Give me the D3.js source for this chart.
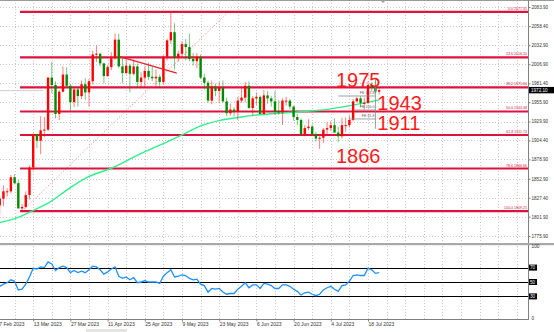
<!DOCTYPE html>
<html>
<head>
<meta charset="utf-8">
<script src="https://cdn.jsdelivr.net/npm/d3@7"></script>
<style>
body { margin: 0; background: #fff; }
svg { display: block; }
text { font-family: "Liberation Sans", Arial, sans-serif; }
</style>
</head>
<body>
<div id="chart"></div>
<script>
// Global Variables
var w = 554;
var h = 332;
var plotRight = 528;

// Daily bars, index 0 = 27 Feb 2023 (bars are evenly spaced, no weekends)
var open = [1811,1817,1826,1836,1836,1855,1847,1813,1815,1831,
	1868,1913,1904,1918,1919,1989,1979,1940,1970,1993,
	1978,1956,1973,1964,1980,1969,1984,2020,2021,2008,
	1991,2003,2015,2040,2004,1995,2005,1994,2004,1983,
	1989,1998,1990,1988,1990,1983,2017,2039,2050,2016,
	2021,2034,2030,2014,2011,2017,1989,1982,1958,1977,
	1971,1975,1957,1941,1946,1943,1958,1962,1978,1948,
	1961,1963,1940,1965,1961,1957,1944,1942,1958,1958,
	1950,1936,1932,1913,1921,1923,1913,1907,1908,1919,
	1921,1925,1915,1910,1925,1925,1932,1957,1961,1955,
	1955,1979,1976,1970];
var high = [1826,1830,1844,1840,1858,1859,1851,1819,1836,1871,
	1914,1913,1937,1936,1989,2010,1984,1972,2004,2003,
	1980,1975,1975,1985,1988,1987,2025,2032,2022,2009,
	2006,2023,2048,2048,2015,2014,2008,2013,2008,1996,
	2004,2009,2004,2000,1993,2019,2041,2077,2062,2025,
	2038,2041,2048,2022,2022,2020,1994,1985,1985,1981,
	1983,1985,1962,1954,1949,1963,1975,1983,1984,1964,
	1969,1965,1972,1971,1964,1971,1959,1961,1963,1960,
	1951,1940,1934,1925,1933,1926,1916,1911,1921,1929,
	1930,1934,1923,1935,1935,1938,1960,1963,1964,1962,
	1984,1983,1987,1975];
var low = [1805,1804,1816,1829,1833,1845,1813,1809,1813,1825,
	1864,1894,1886,1909,1917,1968,1934,1932,1969,1976,
	1944,1949,1950,1960,1959,1950,1980,2010,2004,1981,
	1990,1999,2013,2002,1981,1993,1969,1992,1975,1976,
	1975,1986,1984,1976,1976,1980,2012,2034,2000,2010,
	2015,2012,2011,2005,2002,1987,1973,1955,1953,1964,
	1955,1955,1937,1938,1937,1932,1955,1956,1947,1938,
	1952,1940,1939,1954,1950,1939,1939,1925,1951,1946,
	1931,1925,1912,1910,1918,1911,1903,1893,1901,1913,
	1917,1915,1902,1907,1916,1922,1930,1956,1950,1946,
	1953,1970,1967,1966];
var close = [1817,1826,1836,1836,1855,1847,1813,1815,1831,1868,
	1913,1904,1918,1919,1989,1979,1940,1970,1993,1978,
	1956,1973,1964,1980,1969,1984,2020,2021,2008,1991,
	2003,2015,2040,2004,1995,2005,1994,2004,1983,1989,
	1998,1990,1988,1990,1983,2017,2039,2050,2016,2021,
	2034,2030,2014,2011,2017,1989,1982,1958,1977,1971,
	1975,1957,1941,1946,1943,1958,1962,1978,1948,1961,
	1963,1940,1965,1961,1957,1944,1942,1958,1958,1950,
	1936,1932,1913,1921,1923,1913,1907,1908,1919,1921,
	1925,1915,1910,1925,1925,1932,1957,1961,1955,1955,
	1979,1976,1970,1972.1];

// Moving average read at a few bars
var maBar = [1, 6, 9, 14, 20, 25, 31, 39, 44, 50, 55, 60, 66, 71, 76, 82, 87, 96, 103];
var maVal = [1794, 1801, 1808, 1820, 1841, 1856, 1867, 1887, 1898, 1912, 1924, 1931, 1936, 1939, 1941, 1943, 1945, 1952, 1959];

// RSI, one value per bar
var rsi = [42,44,47,49,53,51,39,40,47,57,
	69,68,71,70,78,75,66,70,72,70,
	63,66,63,65,63,67,72,71,67,61,
	64,68,71,58,55,57,53,56,49,50,
	52,50,50,50,48,58,63,67,57,58,
	60,59,55,53,54,47,45,36,41,40,
	41,36,33,34,34,40,44,49,42,46,
	46,41,48,47,45,41,41,46,46,44,
	40,37,32,35,36,33,31,33,39,42,
	44,40,37,45,46,51,59,60,59,59,
	69,67,62,63];
var rsiLevels = [70, 50, 30];

// Fibonacci retracement (8 Mar low -> top)
var fibRatio = ["0.0", "23.6", "38.2", "50.0", "61.8", "78.6", "100.0"];
var fibPrice = [2077.31, 2016.20, 1975.84, 1943.38, 1911.73, 1866.66, 1809.25];
var fibFrom = [7, 1809.25];
var fibTo = [62.5, 2077.31];

// Fibonacci expansion levels
var feName = ["FE 161.8", "FE 100.0", "FE 61.8"];
var fePrice = [1964.2, 1945.4, 1933.3];
var feStart = [92, 96, 95];
var feEnd = 102;

// Hand drawn down trend line
var trendBar = [33.3, 48.6];
var trendVal = [2017, 1995];

// Big notes on the chart
var noteText = ["1975", "1943", "1911", "1866"];
var noteBar = [91.4, 102.5, 102.5, 91.4];
var notePrice = [1976.3, 1945, 1918.5, 1874];

// Axes
var priceTicks = [2083.90, 2058.40, 2032.90, 2006.90, 1981.40, 1955.90, 1929.90, 1904.40, 1878.90, 1852.90, 1827.40, 1801.90, 1775.90];
var dateTicks = [0, 10, 20, 30, 40, 50, 60, 70, 80, 90, 100];
var dateLabels = ["27 Feb 2023", "13 Mar 2023", "27 Mar 2023", "11 Apr 2023", "25 Apr 2023", "9 May 2023", "23 May 2023", "6 Jun 2023", "20 Jun 2023", "4 Jul 2023", "18 Jul 2023"];
var lastPrice = 1972.10;

// Scales
var x = d3.scaleLinear().domain([0, 100]).range([-4, 368]);
var y = d3.scaleLinear().domain([1775.9, 2083.9]).range([236, 7]);
var yr = d3.scaleLinear().domain([0, 100]).range([318, 246]);

var svg = d3.select("#chart")
	.append("svg")
	.attr("width", w)
	.attr("height", h);

svg.append("defs").append("clipPath").attr("id", "clipMain")
	.append("rect").attr("x", 0).attr("y", 1).attr("width", plotRight).attr("height", 242);
svg.select("defs").append("clipPath").attr("id", "clipRsi")
	.append("rect").attr("x", 0).attr("y", 246).attr("width", plotRight).attr("height", 73);

var main = svg.append("g").attr("clip-path", "url(#clipMain)");
var sub = svg.append("g").attr("clip-path", "url(#clipRsi)");

// grid
var gridBars = d3.range(0, 145, 5);
[main, sub].forEach(function(g, k) {
	g.selectAll("line.vgrid")
		.data(gridBars)
		.enter()
		.append("line")
		.attr("class", "vgrid")
		.attr("x1", function(d) { return Math.round(x(d)) + 0.5; })
		.attr("x2", function(d) { return Math.round(x(d)) + 0.5; })
		.attr("y1", k == 0 ? 0 : 246)
		.attr("y2", k == 0 ? 244 : 319)
		.style("stroke", "#c8c8c8")
		.style("stroke-dasharray", "1,2");
});
main.selectAll("line.hgrid")
	.data(priceTicks)
	.enter()
	.append("line")
	.attr("x1", 0)
	.attr("x2", plotRight)
	.attr("y1", function(d) { return Math.round(y(d)) + 0.5; })
	.attr("y2", function(d) { return Math.round(y(d)) + 0.5; })
	.style("stroke", "#c8c8c8")
	.style("stroke-dasharray", "1,2");

// bid line stub
main.append("line")
	.attr("x1", 0).attr("x2", 43)
	.attr("y1", y(lastPrice) + 0.5).attr("y2", y(lastPrice) + 0.5)
	.style("stroke", "#cfcfcf");

// fib retracement
main.append("line")
	.attr("x1", x(fibFrom[0])).attr("y1", y(fibFrom[1]))
	.attr("x2", x(fibTo[0])).attr("y2", y(fibTo[1]))
	.style("stroke", "#f08080")
	.style("stroke-dasharray", "1,2");

main.selectAll("line.fib")
	.data(fibPrice)
	.enter()
	.append("line")
	.attr("x1", x(fibFrom[0]) - 2)
	.attr("x2", plotRight)
	.attr("y1", function(d) { return y(d); })
	.attr("y2", function(d) { return y(d); })
	.style("stroke", "#dc143c")
	.style("stroke-width", 2.2);

main.selectAll("text.fib")
	.data(fibPrice)
	.enter()
	.append("text")
	.attr("x", plotRight - 1)
	.attr("y", function(d) { return y(d) - 2; })
	.attr("text-anchor", "end")
	.style("font-size", "3.6px")
	.style("fill", "#dc143c")
	.text(function(d, i) { return fibRatio[i] + " " + d.toFixed(2); });

// moving average
main.append("path")
	.datum(maBar)
	.attr("d", d3.line()
		.x(function(d) { return x(d); })
		.y(function(d, i) { return y(maVal[i]); })
		.curve(d3.curveMonotoneX))
	.style("fill", "none")
	.style("stroke", "#2ef08a")
	.style("stroke-width", 1.4);

// candles (red = up, green = down)
var bars = d3.range(open.length);
function barColor(i) { return close[i] >= open[i] ? "#ff0000" : "#008a00"; }

main.selectAll("line.wick")
	.data(bars)
	.enter()
	.append("line")
	.attr("x1", function(i) { return x(i); })
	.attr("x2", function(i) { return x(i); })
	.attr("y1", function(i) { return y(high[i]); })
	.attr("y2", function(i) { return y(low[i]); })
	.style("stroke", barColor)
	.style("stroke-opacity", 0.5)
	.style("stroke-width", 1);

main.selectAll("rect.body")
	.data(bars)
	.enter()
	.append("rect")
	.attr("x", function(i) { return x(i) - 1.2; })
	.attr("width", 2.4)
	.attr("y", function(i) { return y(Math.max(open[i], close[i])); })
	.attr("height", function(i) { return Math.max(1, Math.abs(y(open[i]) - y(close[i]))); })
	.style("fill", barColor);

// trend line
main.append("line")
	.attr("x1", x(trendBar[0])).attr("y1", y(trendVal[0]))
	.attr("x2", x(trendBar[1])).attr("y2", y(trendVal[1]))
	.style("stroke", "#e8202a")
	.style("stroke-width", 1.3);

// fib expansion
main.selectAll("line.fe")
	.data(fePrice)
	.enter()
	.append("line")
	.attr("x1", function(d, i) { return x(feStart[i]); })
	.attr("x2", x(feEnd))
	.attr("y1", function(d) { return y(d); })
	.attr("y2", function(d) { return y(d); })
	.style("stroke", "#8a8a8a")
	.style("stroke-width", 0.8);
main.append("line")
	.attr("x1", x(feEnd)).attr("x2", x(feEnd))
	.attr("y1", y(1985)).attr("y2", y(1920))
	.style("stroke", "#8a8a8a")
	.style("stroke-width", 0.8);
main.selectAll("text.fe")
	.data(fePrice)
	.enter()
	.append("text")
	.attr("x", x(feEnd) - 1)
	.attr("y", function(d) { return y(d) - 1.5; })
	.attr("text-anchor", "end")
	.style("font-size", "3.6px")
	.style("fill", "#555")
	.text(function(d, i) { return feName[i]; });

// big notes
main.selectAll("text.note")
	.data(noteText)
	.enter()
	.append("text")
	.attr("x", function(d, i) { return x(noteBar[i]); })
	.attr("y", function(d, i) { return y(notePrice[i]); })
	.style("font-size", "20px")
	.style("fill", "#ff1a1a")
	.text(function(d) { return d; });

// RSI
sub.selectAll("line.level")
	.data(rsiLevels)
	.enter()
	.append("line")
	.attr("x1", 0).attr("x2", plotRight)
	.attr("y1", function(d) { return Math.round(yr(d)) + 0.5; })
	.attr("y2", function(d) { return Math.round(yr(d)) + 0.5; })
	.style("stroke", "#000");

sub.append("path")
	.datum(rsi)
	.attr("d", d3.line()
		.x(function(d, i) { return x(i); })
		.y(function(d) { return yr(d); }))
	.style("fill", "none")
	.style("stroke", "#1e90ff")
	.style("stroke-width", 1.3);

// frames
svg.append("line").attr("x1", 0).attr("x2", w).attr("y1", 0.5).attr("y2", 0.5).style("stroke", "#9a9a9a");
svg.append("rect").attr("x", 0).attr("y", 243).attr("width", w).attr("height", 2.2).style("fill", "#a8a8a8");
svg.append("path").attr("d", "M380,0L386,0L383,3Z").style("fill", "#a0a0a0");

// price axis
var pAxis = svg.append("g")
	.attr("transform", "translate(" + (plotRight + 0.5) + ",0)")
	.call(d3.axisRight(y).tickValues(priceTicks).tickSize(2).tickFormat(d3.format(".2f")));
pAxis.select(".domain").attr("d", "M0,0V243").style("stroke", "#808080");
pAxis.selectAll("line").style("stroke", "#808080");
pAxis.selectAll("text").style("font-size", "4.6px").style("fill", "#333").attr("x", 3).attr("font-family", null);

svg.append("rect").attr("x", plotRight + 1).attr("y", y(lastPrice) - 3.2).attr("width", 25).attr("height", 6.4).style("fill", "#000");
svg.append("text").attr("x", plotRight + 3).attr("y", y(lastPrice) + 1.7)
	.style("font-size", "4.6px").style("fill", "#fff").text(lastPrice.toFixed(2));

// RSI axis
var rAxis = svg.append("g")
	.attr("transform", "translate(" + (plotRight + 0.5) + ",0)")
	.call(d3.axisRight(yr).tickValues([100, 0]).tickSize(0));
rAxis.select(".domain").attr("d", "M0,245V320").style("stroke", "#808080");
rAxis.selectAll("text").style("font-size", "4.8px").style("fill", "#333").attr("x", 3).attr("font-family", null);

svg.selectAll("rect.lvl")
	.data(rsiLevels)
	.enter()
	.append("rect")
	.attr("x", plotRight + 1)
	.attr("y", function(d) { return yr(d) - 3; })
	.attr("width", 8)
	.attr("height", 6)
	.style("fill", "#000");
svg.selectAll("text.lvl")
	.data(rsiLevels)
	.enter()
	.append("text")
	.attr("x", plotRight + 2)
	.attr("y", function(d) { return yr(d) + 1.7; })
	.style("font-size", "4.6px")
	.style("fill", "#fff")
	.text(function(d) { return d; });

// time axis
var tAxis = svg.append("g")
	.attr("transform", "translate(0,319.5)")
	.call(d3.axisBottom(x).tickValues(dateTicks).tickSize(2)
		.tickFormat(function(d, i) { return dateLabels[i]; }));
tAxis.select(".domain").attr("d", "M0,0H" + (plotRight + 0.5)).style("stroke", "#808080");
tAxis.selectAll("line").style("stroke", "#808080");
tAxis.selectAll("text").style("font-size", "5px").style("fill", "#333")
	.attr("text-anchor", "start").attr("y", 3).attr("font-family", null);

// scroll bar
svg.append("rect").attr("x", 86).attr("y", 329).attr("width", 41).attr("height", 3).style("fill", "#e4e4e4");
</script>
</body>
</html>
